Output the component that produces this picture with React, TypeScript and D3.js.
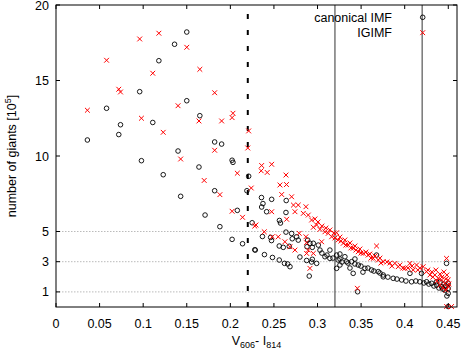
import React from 'react';
import * as d3 from 'd3';

// [V606 - I814, number of giants / 1e5]
const canonicalSparse: [number, number][] = [
  [0.036, 11.06], [0.058, 13.16], [0.072, 11.42], [0.074, 12.07], [0.096, 14.26],
  [0.098, 9.69], [0.111, 12.22], [0.118, 16.31], [0.136, 17.4], [0.15, 18.21],
  [0.15, 13.66], [0.165, 12.67], [0.123, 8.76], [0.14, 10.33], [0.164, 9.27],
  [0.182, 10.93], [0.19, 10.79], [0.202, 9.72], [0.203, 9.58], [0.143, 7.33],
  [0.171, 6.09], [0.182, 7.7], [0.188, 5.32], [0.208, 6.4], [0.202, 4.48],
  [0.214, 4.19], [0.221, 8.66], [0.219, 7.7], [0.225, 5.58], [0.228, 3.79],
];

const canonicalMid: [number, number][] = [
  [0.2357, 7.25], [0.2374, 6.85], [0.2359, 6.62], [0.2474, 7.13], [0.2416, 6.31],
  [0.2641, 7.05], [0.2638, 6.26], [0.2563, 5.73], [0.2575, 5.56], [0.2638, 4.96],
  [0.2703, 4.87], [0.276, 4.65], [0.2779, 4.43], [0.271, 4.52], [0.2368, 4.67],
  [0.2472, 4.4], [0.2462, 4.61], [0.2561, 4.04], [0.2607, 3.95], [0.2676, 4.02],
  [0.2887, 4.43], [0.2913, 4.22], [0.2879, 3.99], [0.294, 3.95], [0.2286, 3.77],
  [0.2391, 3.47], [0.2483, 3.28], [0.2561, 3.11], [0.2621, 2.89], [0.2658, 2.85],
  [0.2684, 2.67], [0.2798, 3.31], [0.2875, 3.08], [0.294, 3.16], [0.2905, 2.05],
];

const canonicalBand: [number, number][] = [
  [0.299, 2.89], [0.2932, 2.98], [0.3009, 4.1], [0.2952, 4.22], [0.3028, 3.77],
  [0.3085, 3.33], [0.3142, 3.77], [0.3142, 3.22], [0.3219, 3.44], [0.3237, 3.11],
  [0.3314, 3.33], [0.3391, 3.0], [0.3467, 2.78], [0.3544, 2.56], [0.362, 2.45],
  [0.3697, 2.34], [0.3754, 2.12], [0.3333, 3.0], [0.3409, 2.23], [0.3677, 3.44],
  [0.346, 1.01], [0.3219, 2.56], [0.305, 3.57], [0.3108, 3.44], [0.3177, 3.24],
  [0.3257, 3.18], [0.328, 2.98], [0.3349, 2.91], [0.3429, 2.85], [0.3498, 2.71],
  [0.3578, 2.58], [0.3647, 2.38], [0.3716, 2.25], [0.3257, 2.78], [0.3372, 2.58],
  [0.3521, 2.31], [0.3257, 3.51], [0.3429, 3.18],
  [0.3754, 2.0], [0.3868, 1.9], [0.3965, 1.79], [0.4079, 1.67], [0.4174, 1.67],
  [0.4251, 1.67], [0.4309, 1.57], [0.4366, 1.45], [0.4423, 1.34], [0.4461, 1.12],
  [0.4499, 1.23], [0.448, 2.89], [0.4499, 0.9], [0.406, 2.23], [0.4193, 2.23],
  [0.4366, 1.67], [0.4499, 1.57], [0.4499, 0.03], [0.3807, 1.98], [0.3911, 1.85],
  [0.4014, 1.72], [0.4128, 1.72], [0.422, 1.59], [0.4277, 1.52], [0.4335, 1.39],
  [0.4392, 1.26], [0.4438, 1.19], [0.4472, 1.39], [0.4484, 0.73], [0.445, 1.52],
  [0.4404, 1.65],
];

const igimfSparse: [number, number][] = [
  [0.036, 13.03], [0.058, 16.34], [0.072, 14.42], [0.074, 14.24], [0.096, 17.75],
  [0.098, 12.5], [0.111, 15.48], [0.118, 18.13], [0.15, 17.2], [0.165, 15.74],
  [0.182, 14.19], [0.14, 13.33], [0.164, 12.32], [0.19, 12.32], [0.203, 12.83],
  [0.202, 12.54], [0.221, 11.66], [0.123, 11.57], [0.182, 10.38], [0.143, 9.8],
  [0.22, 10.53], [0.208, 8.86], [0.17, 8.38], [0.224, 7.88], [0.188, 7.44],
  [0.202, 6.34], [0.214, 5.94], [0.228, 5.36],
];

const igimfMid: [number, number][] = [
  [0.2359, 9.37], [0.2474, 9.45], [0.2354, 9.02], [0.2423, 8.91], [0.2638, 8.74],
  [0.2569, 8.08], [0.2644, 8.11], [0.2589, 7.45], [0.2703, 7.3], [0.2724, 6.75],
  [0.2779, 6.75], [0.2867, 6.64], [0.2741, 6.31], [0.2837, 6.2], [0.2894, 6.09],
  [0.2932, 5.76], [0.2952, 5.28], [0.2474, 6.31], [0.2646, 5.81], [0.2294, 5.43],
  [0.2389, 4.98], [0.248, 4.65], [0.2549, 4.65], [0.2626, 4.32], [0.2683, 3.99],
  [0.2741, 3.77], [0.279, 4.88], [0.2867, 4.65], [0.2873, 4.26], [0.2875, 3.55],
  [0.2894, 3.77], [0.2913, 2.56], [0.2952, 3.55],
];

const igimfBand: [number, number][] = [
  [0.299, 5.43], [0.3028, 5.14], [0.3085, 4.98], [0.3123, 4.88], [0.3162, 4.65],
  [0.3219, 4.92], [0.3237, 4.44], [0.3295, 4.22], [0.3352, 4.1], [0.3409, 3.89],
  [0.3467, 3.66], [0.3524, 3.55], [0.3581, 3.44], [0.3639, 3.22], [0.3697, 3.11],
  [0.3754, 3.0], [0.3677, 4.04], [0.3047, 4.32], [0.3457, 1.24], [0.297, 5.83],
  [0.3005, 5.63], [0.305, 5.36], [0.3096, 5.23], [0.3142, 5.1], [0.3188, 4.9],
  [0.32, 4.57], [0.3257, 4.63], [0.3268, 4.37], [0.3314, 4.44], [0.3326, 4.1],
  [0.3372, 4.24], [0.3383, 3.91], [0.3429, 4.04], [0.3441, 3.77], [0.3486, 3.84],
  [0.3498, 3.57], [0.3555, 3.64], [0.3601, 3.51], [0.3613, 3.24], [0.3659, 3.38],
  [0.3716, 3.24], [0.3727, 2.91],
  [0.3888, 2.89], [0.3926, 2.67], [0.406, 2.89], [0.4136, 2.78], [0.4212, 2.67],
  [0.4097, 2.45], [0.4002, 2.56], [0.425, 2.34], [0.4289, 2.12], [0.4346, 2.12],
  [0.4384, 1.9], [0.4423, 1.79], [0.4461, 1.57], [0.4499, 1.79], [0.448, 3.22],
  [0.4499, 1.34], [0.4481, 0.03], [0.4537, 0.03], [0.3796, 2.98], [0.383, 2.91],
  [0.3853, 2.71], [0.3945, 2.78], [0.3979, 2.58], [0.4037, 2.58], [0.4083, 2.71],
  [0.4151, 2.45], [0.4174, 2.58], [0.4266, 2.45], [0.4312, 2.32], [0.4323, 1.98],
  [0.4358, 2.45], [0.4369, 1.72], [0.4404, 2.18], [0.4404, 1.45], [0.4427, 1.98],
  [0.4438, 1.26], [0.445, 2.32], [0.4472, 1.85], [0.4472, 1.12], [0.4484, 2.12],
  [0.4507, 1.52],
];

const canonical = [...canonicalSparse, ...canonicalMid, ...canonicalBand];
const igimf = [...igimfSparse, ...igimfMid, ...igimfBand];

const xTicks = [0, 0.05, 0.1, 0.15, 0.2, 0.25, 0.3, 0.35, 0.4, 0.45];
const xTickLabels = ['0', '0.05', '0.1', '0.15', '0.2', '0.25', '0.3', '0.35', '0.4', '0.45'];
const yTicks = [1, 3, 5, 10, 15, 20];
const gridValues = [1, 3, 5];
const dashedCut = 0.22;
const solidCuts = [0.32, 0.42];

const W = 463;
const H = 354;
const left = 56;
const right = 457;
const top = 5;
const bottom = 307;
const FONT = '"Liberation Sans", Arial, Helvetica, sans-serif';

const crossPath = (s: number) => `M${-s},${-s}L${s},${s}M${-s},${s}L${s},${-s}`;

export default function App() {
  const x = d3.scaleLinear().domain([0, 0.46]).range([left, right]);
  const y = d3.scaleLinear().domain([0, 20]).range([bottom, top]);

  return (
    <svg width={W} height={H} style={{ position: 'absolute', left: 0, top: 0, background: '#fff' }}
      fontFamily={FONT}>
      <rect x={0} y={0} width={W} height={H} fill="#fff" />

      {gridValues.map(v => (
        <line key={'g' + v} x1={left} x2={right} y1={y(v)} y2={y(v)}
          stroke="#bbb" strokeWidth={1} strokeDasharray="1.5,1.5" />
      ))}

      {solidCuts.map(v => (
        <line key={'c' + v} x1={x(v)} x2={x(v)} y1={top} y2={bottom} stroke="#333" strokeWidth={1} />
      ))}
      <line x1={x(dashedCut)} x2={x(dashedCut)} y1={bottom} y2={top}
        stroke="#000" strokeWidth={2} strokeDasharray="5,11" />

      {canonical.map((d, i) => (
        <circle key={'o' + i} cx={x(d[0])} cy={y(d[1])} r={2.3}
          fill="none" stroke="#000" strokeWidth={0.9} />
      ))}
      {igimf.map((d, i) => (
        <path key={'x' + i} transform={`translate(${x(d[0])},${y(d[1])})`}
          d={crossPath(2.4)} stroke="#ff0000" strokeWidth={1} fill="none" />
      ))}

      <rect x={left} y={top} width={right - left} height={bottom - top}
        fill="none" stroke="#000" strokeWidth={1} />

      {xTicks.map((v, i) => (
        <g key={'xt' + v}>
          <line x1={x(v)} x2={x(v)} y1={bottom} y2={bottom - 4} stroke="#000" />
          <line x1={x(v)} x2={x(v)} y1={top} y2={top + 4} stroke="#000" />
          <text x={x(v)} y={328} textAnchor="middle" fontSize={12.5}>{xTickLabels[i]}</text>
        </g>
      ))}
      {yTicks.map(v => (
        <g key={'yt' + v}>
          <line x1={left} x2={left + 4} y1={y(v)} y2={y(v)} stroke="#000" />
          <line x1={right} x2={right - 4} y1={y(v)} y2={y(v)} stroke="#000" />
          <text x={49} y={y(v) + 4.5} textAnchor="end" fontSize={12.5}>{v}</text>
        </g>
      ))}

      <text x={(left + right) / 2} y={345} textAnchor="middle" fontSize={12.5}>
        V<tspan fontSize={9} dy={3}>606</tspan><tspan dy={-3}>- I</tspan>
        <tspan fontSize={9} dy={3}>814</tspan>
      </text>
      <text transform={`translate(16,${(top + bottom) / 2}) rotate(-90)`} textAnchor="middle" fontSize={12.5}>
        number of giants [10<tspan fontSize={9} dy={-5}>5</tspan><tspan dy={5}>]</tspan>
      </text>

      <text x={392} y={21.5} textAnchor="end" fontSize={12.5}>canonical IMF</text>
      <circle cx={422.7} cy={17.3} r={2.3} fill="none" stroke="#000" strokeWidth={0.9} />
      <text x={392} y={37} textAnchor="end" fontSize={12.5}>IGIMF</text>
      <path transform="translate(422.7,32.7)" d={crossPath(2.4)} stroke="#ff0000" strokeWidth={1} fill="none" />
    </svg>
  );
}
